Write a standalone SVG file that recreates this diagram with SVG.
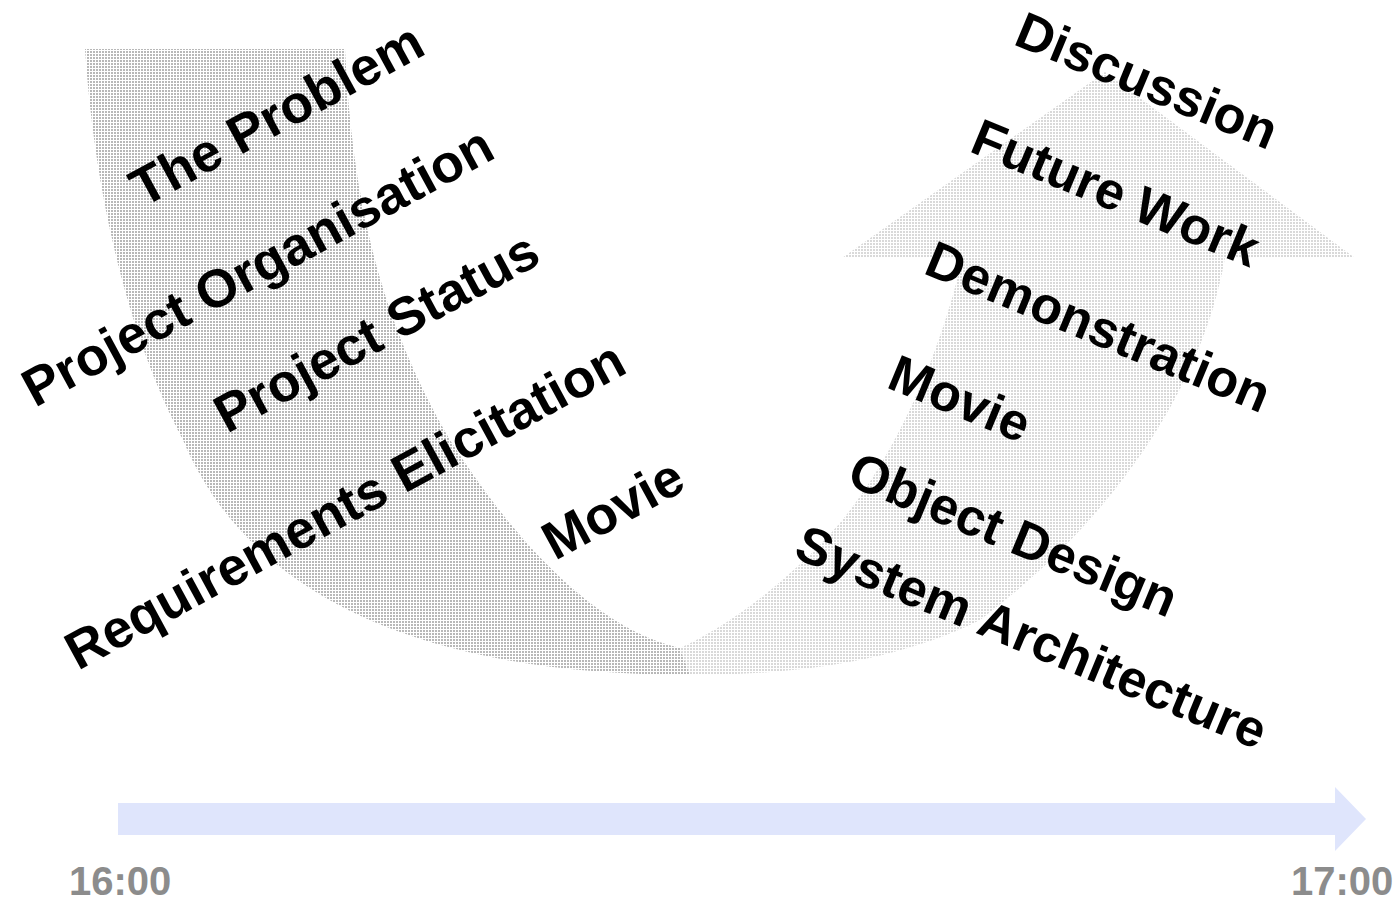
<svg xmlns="http://www.w3.org/2000/svg" width="1399" height="904" viewBox="0 0 1399 904">
  <style>
    .t { font-family: "Liberation Sans", Arial, sans-serif; font-weight: bold; font-size: 52px; fill: #000; }
    .tl { font-size: 53.5px; }
    .time { font-family: "Liberation Sans", Arial, sans-serif; font-weight: bold; font-size: 40px; fill: #8c8c8c; }
  </style>
  <defs>
    <pattern id="pd" width="3" height="3" patternUnits="userSpaceOnUse">
      <rect width="2" height="2" fill="#b8b8b8"/>
    </pattern>
    <pattern id="pl" width="3" height="3" patternUnits="userSpaceOnUse">
      <rect width="2" height="2" fill="#d9d9d9"/>
    </pattern>
  </defs>
  <rect width="1399" height="904" fill="#fff"/>
  <g id="connectors">
    <path id="down-band" fill="url(#pd)" d="M85,49 C95,200 130,340 183,440 C250,600 430,675 690,675 L680,648 C600,630 520,550 450,440 C380,320 352,200 345,49 Z"/>
    <path id="up-arrow" fill="url(#pl)" d="M680,648 C730,625 790,580 840,523 C900,450 945,340 962,258 L842,258 L1105,72 L1355,258 L1225,258 C1200,400 1100,530 980,620 C900,660 800,675 690,675 Z"/>
    <path id="timeline" fill="#dfe5fc" d="M118,803 L1335,803 L1335,787 L1366,819 L1335,851 L1335,835 L118,835 Z"/>
  </g>
  <g id="n-problem"><text class="t tl" transform="translate(143,208) rotate(-28.5)">The Problem</text></g>
  <g id="n-organisation"><text class="t tl" transform="translate(35,408) rotate(-28.5)">Project Organisation</text></g>
  <g id="n-status"><text class="t tl" transform="translate(227,434) rotate(-28.5)">Project Status</text></g>
  <g id="n-requirements"><text class="t tl" transform="translate(78,671) rotate(-28.5)">Requirements Elicitation</text></g>
  <g id="n-movie1"><text class="t tl" transform="translate(555,561) rotate(-28.5)">Movie</text></g>
  <g id="n-discussion"><text class="t" transform="translate(1012,44) rotate(22.5)">Discussion</text></g>
  <g id="n-future"><text class="t" transform="translate(968,151) rotate(22.5)">Future Work</text></g>
  <g id="n-demo"><text class="t" transform="translate(922,273) rotate(22.5)">Demonstration</text></g>
  <g id="n-movie2"><text class="t" transform="translate(885,387) rotate(22.5)">Movie</text></g>
  <g id="n-object"><text class="t" transform="translate(845,484) rotate(22.5)">Object Design</text></g>
  <g id="n-system"><text class="t" transform="translate(792,557) rotate(22.5)">System Architecture</text></g>
  <g id="t-start"><text class="time" x="69" y="895">16:00</text></g>
  <g id="t-end"><text class="time" x="1291" y="895">17:00</text></g>
</svg>
